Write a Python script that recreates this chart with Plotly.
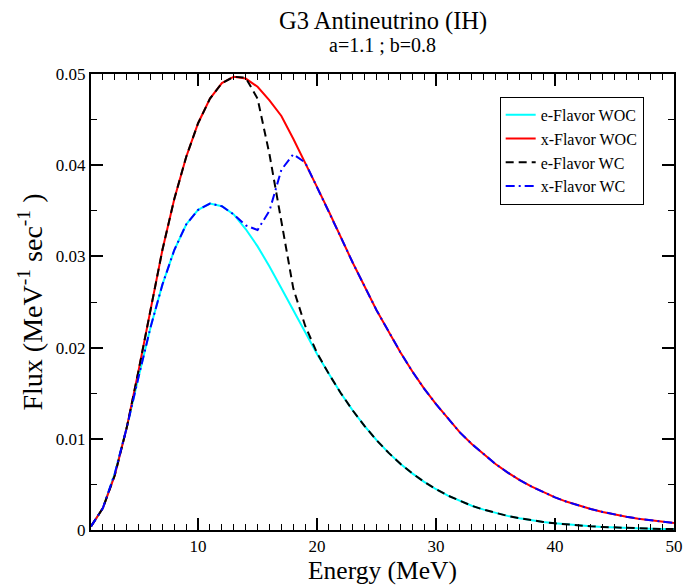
import plotly.graph_objects as go

energy = list(range(1, 51))

e_flavor_woc = [0.00039, 0.0024, 0.0062, 0.0112, 0.0168, 0.0222, 0.0269, 0.0307, 0.0335, 0.0351,
                0.0358, 0.0355, 0.0346, 0.0330, 0.0311, 0.0289, 0.0265, 0.0241, 0.0217, 0.0193,
                0.0171, 0.0150, 0.0131, 0.0114, 0.00985, 0.00848, 0.00726, 0.00621, 0.00528, 0.00447,
                0.00377, 0.00317, 0.00266, 0.00223, 0.00186, 0.00155, 0.00129, 0.00107, 0.00088, 0.00073,
                0.00060, 0.00049, 0.00040, 0.00033, 0.00027, 0.00022, 0.00018, 0.00015, 0.00012, 0.00010]

x_flavor_woc = [0.0004, 0.0024, 0.0060, 0.0112, 0.0175, 0.0243, 0.0307, 0.0363, 0.0409, 0.0446,
                0.0473, 0.0490, 0.0497, 0.0495, 0.0486, 0.0471, 0.0454, 0.0429, 0.0403, 0.0376,
                0.0349, 0.0321, 0.0293, 0.0267, 0.0241, 0.0218, 0.0195, 0.0174, 0.0155, 0.0138,
                0.0122, 0.0107, 0.00944, 0.00829, 0.00724, 0.00632, 0.00550, 0.00478, 0.00414, 0.00358,
                0.00309, 0.00267, 0.00230, 0.00198, 0.00168, 0.00145, 0.00124, 0.00106, 0.00091, 0.00077]

e_flavor_wc = [0.0004, 0.0024, 0.0060, 0.0112, 0.0175, 0.0243, 0.0307, 0.0363, 0.0409, 0.0446,
               0.0473, 0.0490, 0.0497, 0.0496, 0.0473, 0.0412, 0.0338, 0.0265, 0.0224, 0.0194,
               0.0171, 0.0150, 0.0131, 0.0114, 0.00985, 0.00848, 0.00726, 0.00621, 0.00528, 0.00447,
               0.00377, 0.00317, 0.00266, 0.00223, 0.00186, 0.00155, 0.00129, 0.00107, 0.00088, 0.00073,
               0.00060, 0.00049, 0.00040, 0.00033, 0.00027, 0.00022, 0.00018, 0.00015, 0.00012, 0.00010]

x_flavor_wc = [0.00039, 0.0024, 0.0062, 0.0112, 0.0168, 0.0222, 0.0269, 0.0307, 0.0335, 0.0351,
               0.0358, 0.0355, 0.0346, 0.0334, 0.0329, 0.0350, 0.0395, 0.0412, 0.0403, 0.0376,
               0.0349, 0.0321, 0.0293, 0.0267, 0.0241, 0.0218, 0.0195, 0.0174, 0.0155, 0.0138,
               0.0122, 0.0107, 0.00944, 0.00829, 0.00724, 0.00632, 0.00550, 0.00478, 0.00414, 0.00358,
               0.00309, 0.00267, 0.00230, 0.00198, 0.00168, 0.00145, 0.00124, 0.00106, 0.00091, 0.00077]

series_names = ["e-Flavor WOC", "x-Flavor WOC", "e-Flavor WC", "x-Flavor WC"]

FONT = "Liberation Serif"

fig = go.Figure()
fig.add_trace(go.Scatter(x=energy, y=e_flavor_woc, mode="lines", name=series_names[0],
                         line=dict(color="#00FFFF", width=2)))
fig.add_trace(go.Scatter(x=energy, y=x_flavor_woc, mode="lines", name=series_names[1],
                         line=dict(color="#FF0000", width=2)))
fig.add_trace(go.Scatter(x=energy, y=e_flavor_wc, mode="lines", name=series_names[2],
                         line=dict(color="#000000", width=2, dash="8px,5px")))
fig.add_trace(go.Scatter(x=energy, y=x_flavor_wc, mode="lines", name=series_names[3],
                         line=dict(color="#0000FF", width=2, dash="9px,4px,2px,4px")))

fig.update_xaxes(
    range=[1, 50], tick0=0, dtick=10,
    showline=True, linecolor="black", linewidth=2, mirror="allticks",
    ticks="inside", ticklen=12, tickwidth=1.5, tickcolor="black",
    showgrid=False, zeroline=False,
    tickfont=dict(family=FONT, size=17, color="black"),
    minor=dict(ticks="inside", ticklen=6, tickwidth=1.2, tickcolor="black", dtick=1, showgrid=False),
    title=dict(text="Energy (MeV)", font=dict(family=FONT, size=25.5, color="black"), standoff=2),
)
fig.update_yaxes(
    range=[0, 0.05], tick0=0, dtick=0.01,
    showline=True, linecolor="black", linewidth=2, mirror="allticks",
    ticks="inside", ticklen=12, tickwidth=1.5, tickcolor="black",
    showgrid=False, zeroline=False,
    tickfont=dict(family=FONT, size=17, color="black"),
    minor=dict(ticks="inside", ticklen=6, tickwidth=1.2, tickcolor="black", dtick=0.005, showgrid=False),
    title=dict(text="Flux (MeV<sup>-1</sup> sec<sup>-1</sup> )", font=dict(family=FONT, size=28, color="black"), standoff=5),
)

fig.update_layout(
    width=694, height=587,
    margin=dict(l=91, r=11, t=74, b=54),
    paper_bgcolor="white", plot_bgcolor="white",
    font=dict(family=FONT, color="black"),
    showlegend=True,
    legend=dict(x=0.701, y=0.950, xanchor="left", yanchor="top",
                bgcolor="white", bordercolor="black", borderwidth=1,
                font=dict(family=FONT, size=16, color="black"),
                itemwidth=30, tracegroupgap=0),
    annotations=[
        dict(text="G3 Antineutrino (IH)", x=0.5, y=1.116, xref="paper", yref="paper",
             xanchor="center", yanchor="middle", showarrow=False,
             font=dict(family=FONT, size=24.5, color="black")),
        dict(text="a=1.1 ; b=0.8", x=0.5, y=1.064, xref="paper", yref="paper",
             xanchor="center", yanchor="middle", showarrow=False,
             font=dict(family=FONT, size=20, color="black")),
    ],
)

fig.write_html("out.html")
